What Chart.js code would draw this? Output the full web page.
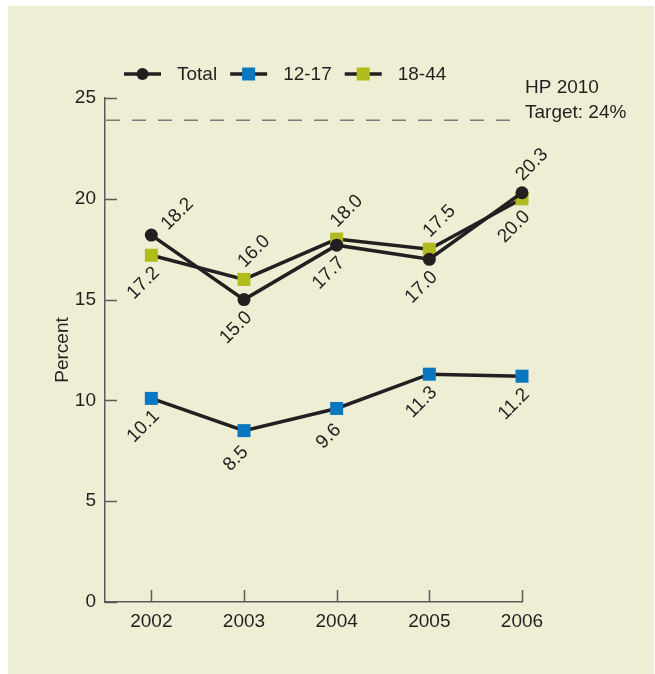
<!DOCTYPE html>
<html>
<head>
<meta charset="utf-8">
<script src="https://cdn.jsdelivr.net/npm/chart.js@4/dist/chart.umd.min.js"></script>
<style>
  html, body { margin: 0; padding: 0; background: #ffffff; }
  #wrap { width: 655px; height: 674px; position: relative; }
</style>
</head>
<body>
<div id="wrap"><canvas id="c" width="655" height="674"></canvas></div>
<script>
var years = [2002, 2003, 2004, 2005, 2006];
var total = [18.2, 15.0, 17.7, 17.0, 20.3];
var age1217 = [10.1, 8.5, 9.6, 11.3, 11.2];
var age1844 = [17.2, 16.0, 18.0, 17.5, 20.0];
var yTicks = [0, 5, 10, 15, 20, 25];
var target = 24;

var INK = "#231f20";
var AXIS = "#5a5a5a";
var FAMILY = "'Liberation Sans', Arial, sans-serif";
var FONT = "19px " + FAMILY;

function points(values) {
    return values.map(function (v, i) { return {x: years[i], y: v}; });
}

// where each value label sits relative to its point: "up" or "down"
var labelSides = {
    "Total": ["up", "down", "down", "down", "up"],
    "12-17": ["down", "down", "down", "down", "down"],
    "18-44": ["down", "up", "up", "up", "down"]
};
var OFFSETS = {up: [10, -28], down: [-8, 28]};

var panelPlugin = {
    id: "panel",
    beforeDraw: function (chart) {
        var ctx = chart.ctx;
        ctx.save();
        ctx.fillStyle = "#eeeed4";
        ctx.fillRect(8, 6, 646, 668);
        ctx.restore();
    }
};

var decorPlugin = {
    id: "decor",
    beforeDatasetsDraw: function (chart) {
        var ctx = chart.ctx, area = chart.chartArea;
        var xs = chart.scales.x, ys = chart.scales.y;
        ctx.save();
        // inward tick marks
        ctx.strokeStyle = AXIS;
        ctx.lineWidth = 1.5;
        ctx.beginPath();
        yTicks.forEach(function (v) {
            var py = Math.round(ys.getPixelForValue(v)) + 0.5;
            ctx.moveTo(area.left, py);
            ctx.lineTo(area.left + 12, py);
        });
        years.forEach(function (v) {
            var px = Math.round(xs.getPixelForValue(v)) + 0.5;
            ctx.moveTo(px, area.bottom);
            ctx.lineTo(px, area.bottom - 12);
        });
        ctx.stroke();

        // target line
        var ty = ys.getPixelForValue(target) + 2;
        ctx.setLineDash([14, 12]);
        ctx.strokeStyle = "#7a7a7a";
        ctx.beginPath();
        ctx.moveTo(area.left + 1, ty);
        ctx.lineTo(area.right - 6, ty);
        ctx.stroke();
        ctx.setLineDash([]);

        ctx.fillStyle = INK;
        ctx.font = FONT;
        ctx.textAlign = "left";
        ctx.textBaseline = "middle";
        ctx.fillText("HP 2010", area.right + 3, ty - 32);
        ctx.fillText("Target: " + target + "%", area.right + 3, ty - 7);
        ctx.restore();
    },
    afterDatasetsDraw: function (chart) {
        var ctx = chart.ctx;
        ctx.save();
        ctx.fillStyle = INK;
        ctx.font = FONT;
        ctx.textAlign = "center";
        ctx.textBaseline = "middle";
        chart.data.datasets.forEach(function (ds, di) {
            var meta = chart.getDatasetMeta(di);
            meta.data.forEach(function (el, i) {
                var side = labelSides[ds.label][i];
                var off = OFFSETS[side];
                if (ds.label === "Total" && i === 0) off = [26, -21];
                ctx.save();
                ctx.translate(el.x + off[0], el.y + off[1]);
                ctx.rotate(-Math.PI / 4);
                ctx.fillText(ds.data[i].y.toFixed(1), 0, 0);
                ctx.restore();
            });
        });

        // legend: line with marker, then name
        var x = 124, y = 74;
        ctx.textAlign = "left";
        chart.data.datasets.forEach(function (ds) {
            ctx.strokeStyle = INK;
            ctx.lineWidth = 3.5;
            ctx.beginPath();
            ctx.moveTo(x, y);
            ctx.lineTo(x + 37, y);
            ctx.stroke();
            ctx.fillStyle = ds.pointBackgroundColor;
            if (ds.pointStyle === "circle") {
                ctx.beginPath();
                ctx.arc(x + 18.5, y, 6, 0, Math.PI * 2);
                ctx.fill();
            } else {
                ctx.fillRect(x + 12, y - 6.5, 13, 13);
            }
            ctx.fillStyle = INK;
            ctx.fillText(ds.label, x + 53, y + 1);
            x += 53 + ctx.measureText(ds.label).width + 13;
        });
        ctx.restore();
    }
};

new Chart(document.getElementById("c"), {
    type: "line",
    data: {
        datasets: [
            {
                label: "Total",
                data: points(total),
                borderColor: INK,
                borderWidth: 3.5,
                pointStyle: "circle",
                pointRadius: 6.5,
                pointBorderWidth: 0,
                pointBackgroundColor: INK,
                clip: false
            },
            {
                label: "12-17",
                data: points(age1217),
                borderColor: INK,
                borderWidth: 3.5,
                pointStyle: "rect",
                pointRadius: 9.2,
                pointBorderWidth: 0,
                pointBackgroundColor: "#0a78c0",
                clip: false
            },
            {
                label: "18-44",
                data: points(age1844),
                borderColor: INK,
                borderWidth: 3.5,
                pointStyle: "rect",
                pointRadius: 9.2,
                pointBorderWidth: 0,
                pointBackgroundColor: "#b0bb1e",
                clip: false
            }
        ]
    },
    options: {
        responsive: false,
        animation: false,
        layout: {padding: {top: 98, right: 133, left: 0, bottom: 0}},
        plugins: {legend: {display: false}, tooltip: {enabled: false}},
        elements: {line: {tension: 0}},
        scales: {
            x: {
                type: "linear",
                min: 2001.5,
                max: 2006,
                afterBuildTicks: function (s) {
                    s.ticks = years.map(function (v) { return {value: v}; });
                },
                afterFit: function (s) { s.height = 72; },
                grid: {display: false, drawTicks: false},
                border: {display: true, color: AXIS, width: 1.5},
                ticks: {
                    padding: 8,
                    color: INK,
                    font: {family: FAMILY, size: 19},
                    callback: function (v) { return String(v); }
                }
            },
            y: {
                min: 0,
                max: 25,
                afterBuildTicks: function (s) {
                    s.ticks = yTicks.map(function (v) { return {value: v}; });
                },
                afterFit: function (s) { s.width = 105; },
                grid: {display: false, drawTicks: false},
                border: {display: true, color: AXIS, width: 1.5},
                ticks: {
                    padding: 9,
                    color: INK,
                    font: {family: FAMILY, size: 19}
                },
                title: {
                    display: true,
                    text: "Percent",
                    color: INK,
                    padding: {top: 51},
                    font: {family: FAMILY, size: 19}
                }
            }
        }
    },
    plugins: [panelPlugin, decorPlugin]
});
</script>
</body>
</html>
